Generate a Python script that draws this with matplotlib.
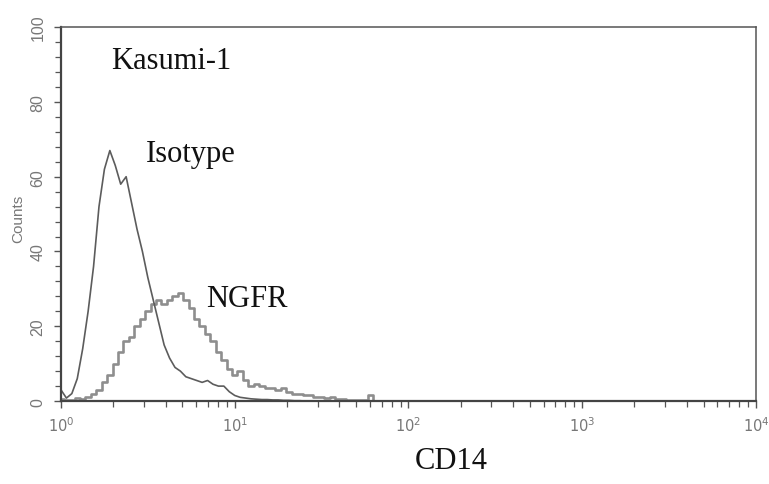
import numpy as np
import matplotlib
matplotlib.use("Agg")
import matplotlib.pyplot as plt
from matplotlib.ticker import MultipleLocator, LogLocator, FixedLocator, FixedFormatter, NullFormatter

# Histogram channels: 32 channels per decade (channel c -> 10**(c/32))
isotype_counts = [3, 0.8, 2, 6, 14, 24, 36, 52, 62, 67, 63, 58, 60, 53, 46, 40,
                  33, 27, 21, 15, 11.5, 9, 8, 6.5, 6, 5.5, 5, 5.5, 4.5, 4, 4, 2.5,
                  1.5, 1, 0.8, 0.6, 0.5, 0.4, 0.4, 0.3, 0.3, 0.2, 0.2, 0.1, 0.1, 0]
ngfr_counts = [0.5, 0.3, 0.3, 0.8, 0.5, 1, 2, 3, 5, 7, 10, 13, 16, 17, 20, 22,
               24, 26, 27, 26, 27, 28, 29, 27, 25, 22, 20, 18, 16, 13, 11, 8.5,
               7, 8, 5.5, 4, 4.5, 4, 3.5, 3.5, 3, 3.5, 2.5, 2, 1.8, 1.5,
               1.5, 1.0, 1.2, 0.8, 1.0, 0.6, 0.5, 0.4, 0.3, 0.4, 0.2, 1.5, 0.1, 0]
channels_per_decade = 32

x_iso = 10 ** (np.arange(len(isotype_counts)) / channels_per_decade)
x_ngfr = 10 ** (np.arange(len(ngfr_counts)) / channels_per_decade)

ytick_vals = [0, 20, 40, 60, 80, 100]
xtick_vals = [1, 10, 100, 1000, 10000]
xtick_labels = [r"$10^0$", r"$10^1$", r"$10^2$", r"$10^3$", r"$10^4$"]

fig = plt.figure(figsize=(7.69, 4.85), dpi=100)
ax = fig.add_axes([0.0793, 0.171, 0.9037, 0.771])

ax.plot(x_ngfr, ngfr_counts, drawstyle="steps-mid", color="#8e8e8e", lw=1.9)
ax.plot(x_iso, isotype_counts, color="#5c5c5c", lw=1.2)

ax.set_xscale("log")
ax.set_xlim(1, 10000)
ax.set_ylim(0, 100)

ax.yaxis.set_major_locator(FixedLocator(ytick_vals))
ax.yaxis.set_minor_locator(MultipleLocator(4))
ax.set_yticklabels([str(v) for v in ytick_vals], rotation=90, va="center",
                   color="#777777", fontsize=11.5, family="Liberation Sans")
ax.xaxis.set_major_locator(FixedLocator(xtick_vals))
ax.xaxis.set_major_formatter(FixedFormatter(xtick_labels))
ax.xaxis.set_minor_locator(LogLocator(base=10, subs=np.arange(2, 10)))
ax.xaxis.set_minor_formatter(NullFormatter())
for lab in ax.get_xticklabels():
    lab.set_color("#777777")
    lab.set_fontsize(10.5)

ax.tick_params(axis="both", which="major", direction="out", length=5, width=1, color="#555555")
ax.tick_params(axis="both", which="minor", direction="out", length=4, width=0.9, color="#555555")
ax.tick_params(axis="y", which="major", pad=6)
ax.tick_params(axis="x", which="major", pad=5)

for side in ["left", "bottom"]:
    ax.spines[side].set_linewidth(1.6)
    ax.spines[side].set_color("#444444")
for side in ["top", "right"]:
    ax.spines[side].set_linewidth(1.1)
    ax.spines[side].set_color("#555555")

ax.set_ylabel("Counts", color="#777777", fontsize=11, family="Liberation Sans")
ax.yaxis.set_label_coords(-0.052, 0.49)
ax.set_xlabel("CD14", fontsize=22, family="Liberation Serif", va="baseline", color="#111111")
ax.xaxis.set_label_coords(0.561, -0.180)

ax.text(0.1585, 0.890, "Kasumi-1", transform=ax.transAxes, ha="center", va="baseline",
        fontsize=22, family="Liberation Serif", color="#111111")
ax.text(0.187, 0.641, "Isotype", transform=ax.transAxes, ha="center", va="baseline",
        fontsize=22, family="Liberation Serif", color="#111111")
ax.text(0.267, 0.255, "NGFR", transform=ax.transAxes, ha="center", va="baseline",
        fontsize=22, family="Liberation Serif", color="#111111")

fig.savefig("out.png", dpi=100)
